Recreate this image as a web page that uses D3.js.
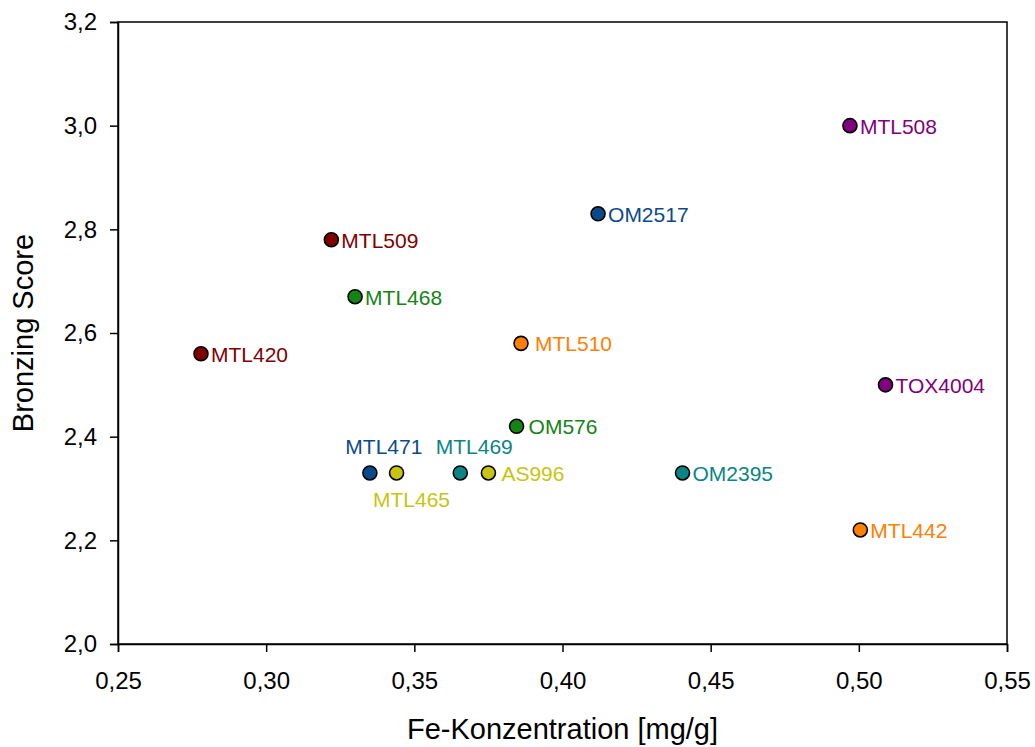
<!DOCTYPE html>
<html>
<head>
<meta charset="utf-8">
<script src="https://cdn.jsdelivr.net/npm/d3@7"></script>
<style>
  html, body { margin: 0; padding: 0; background: #fff; }
  svg { display: block; font-family: "Liberation Sans", Arial, sans-serif; }
</style>
</head>
<body>
<svg id="chart" width="1035" height="747"></svg>
<script>
// Samples: iron concentration vs. bronzing score
const sampleNames = ["MTL508", "OM2517", "MTL509", "MTL468", "MTL420", "MTL510", "TOX4004",
                     "OM576", "MTL471", "MTL465", "MTL469", "AS996", "OM2395", "MTL442"];
const feValues    = [0.497, 0.412, 0.322, 0.330, 0.278, 0.386, 0.509,
                     0.3845, 0.335, 0.344, 0.3655, 0.375, 0.4405, 0.5005];
const scoreValues = [3.00, 2.83, 2.78, 2.67, 2.56, 2.58, 2.50,
                     2.42, 2.33, 2.33, 2.33, 2.33, 2.33, 2.22];
const sampleColors = ["#800080", "#0b4a8a", "#800000", "#148414", "#800000", "#ff8000", "#800080",
                      "#148414", "#0b4a8a", "#c8c412", "#0a8585", "#c8c412", "#0a8585", "#ff8000"];
// label placement: right of the point, above it, or below it
const labelPlace  = ["right", "right", "right", "right", "right", "right", "right",
                     "right", "above", "below", "above", "right", "right", "right"];

const xTicks = [0.25, 0.30, 0.35, 0.40, 0.45, 0.50, 0.55];
const yTicks = [2.0, 2.2, 2.4, 2.6, 2.8, 3.0, 3.2];

const margin = { left: 118, top: 22, right: 1007, bottom: 644 };
const svg = d3.select("#chart");

const x = d3.scaleLinear().domain([0.25, 0.55]).range([margin.left, margin.right]);
const y = d3.scaleLinear().domain([2.0, 3.2]).range([margin.bottom, margin.top]);

const fmt = (d, digits) => d.toFixed(digits).replace(".", ",");

// frame
svg.append("rect")
  .attr("x", margin.left).attr("y", margin.top)
  .attr("width", margin.right - margin.left).attr("height", margin.bottom - margin.top)
  .attr("fill", "none").attr("stroke", "#000").attr("stroke-width", 1.5);

const xAxis = svg.append("g")
  .attr("transform", `translate(0,${margin.bottom})`)
  .call(d3.axisBottom(x).tickValues(xTicks).tickSize(8).tickPadding(20).tickFormat(d => fmt(d, 2)));
const yAxis = svg.append("g")
  .attr("transform", `translate(${margin.left},0)`)
  .call(d3.axisLeft(y).tickValues(yTicks).tickSize(8).tickPadding(13).tickFormat(d => fmt(d, 1)));

[xAxis, yAxis].forEach(g => {
  g.attr("font-size", null).attr("font-family", null);
  g.select(".domain").attr("stroke", "#000").attr("stroke-width", 1.5);
  g.selectAll(".tick line").attr("stroke", "#000").attr("stroke-width", 1.5);
  g.selectAll(".tick text").attr("fill", "#000").style("font-size", "24px");
});

// axis titles
svg.append("text")
  .attr("x", (margin.left + margin.right) / 2).attr("y", 739)
  .attr("text-anchor", "middle").style("font-size", "29px").attr("fill", "#000")
  .text("Fe-Konzentration [mg/g]");
svg.append("text")
  .attr("transform", `translate(33,${(margin.top + margin.bottom) / 2}) rotate(-90)`)
  .attr("text-anchor", "middle").style("font-size", "29px").attr("fill", "#000")
  .text("Bronzing Score");

const data = sampleNames.map((name, i) => ({
  name, fe: feValues[i], score: scoreValues[i], color: sampleColors[i], place: labelPlace[i]
}));

// points
svg.append("g").selectAll("circle").data(data).join("circle")
  .attr("cx", d => x(d.fe)).attr("cy", d => y(d.score)).attr("r", 7)
  .attr("fill", d => d.color).attr("stroke", "#000").attr("stroke-width", 1.6);

// horizontal gap between a point and its right-hand label
const labelGap = { MTL510: 14, AS996: 13, OM576: 12 };

// labels
svg.append("g").selectAll("text").data(data).join("text")
  .attr("x", d => {
    if (d.place === "above") return x(d.fe) + 14;
    if (d.place === "below") return x(d.fe) + 15;
    return x(d.fe) + (labelGap[d.name] || 10);
  })
  .attr("y", d => {
    if (d.place === "above") return y(d.score) - 19;
    if (d.place === "below") return y(d.score) + 34;
    return y(d.score) + 8;
  })
  .attr("text-anchor", d => d.place === "right" ? "start" : "middle")
  .style("font-size", "21px")
  .attr("fill", d => d.color)
  .text(d => d.name);
</script>
</body>
</html>
